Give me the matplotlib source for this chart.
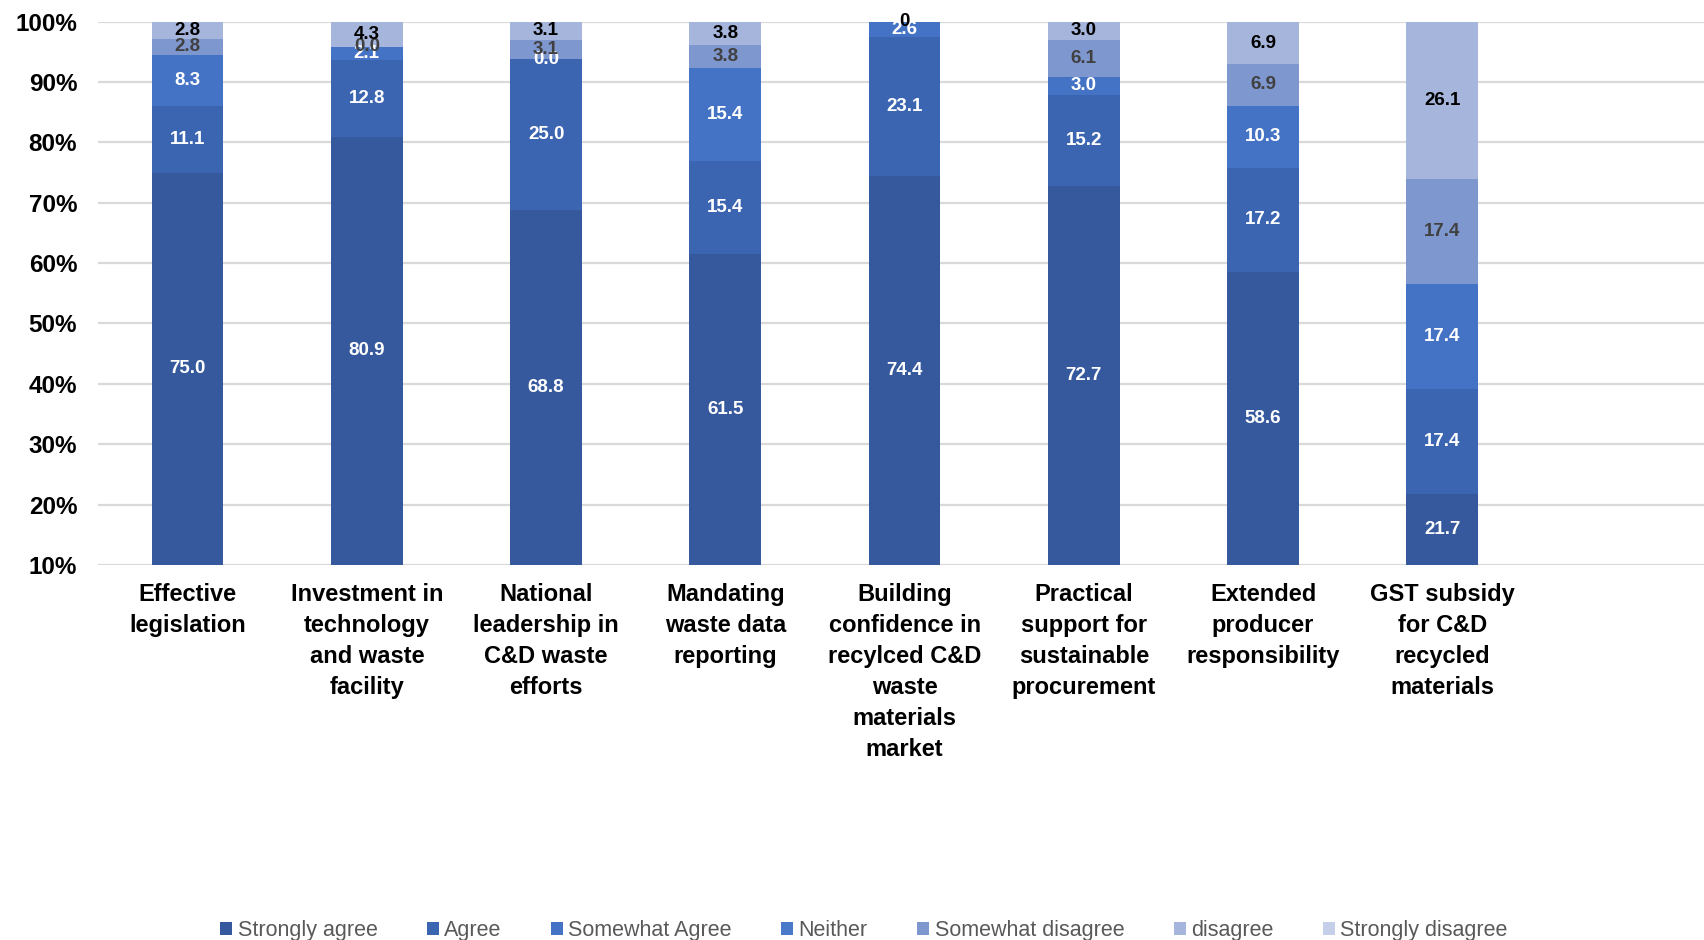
import matplotlib.pyplot as plt
import numpy as np
from matplotlib.ticker import FuncFormatter

plt.rcParams["font.family"] = ["Liberation Sans", "DejaVu Sans"]

categories = [
    "Effective\nlegislation",
    "Investment in\ntechnology\nand waste\nfacility",
    "National\nleadership in\nC&D waste\nefforts",
    "Mandating\nwaste data\nreporting",
    "Building\nconfidence in\nrecylced C&D\nwaste\nmaterials\nmarket",
    "Practical\nsupport for\nsustainable\nprocurement",
    "Extended\nproducer\nresponsibility",
    "GST subsidy\nfor C&D\nrecycled\nmaterials",
]

series_names = ["Strongly agree", "Agree", "Somewhat Agree", "Neither",
                "Somewhat disagree", "disagree", "Strongly disagree"]

strongly_agree = [75.0, 80.9, 68.8, 61.5, 74.4, 72.7, 58.6, 21.7]
agree = [11.1, 12.8, 25.0, 15.4, 23.1, 15.2, 17.2, 17.4]
somewhat_agree = [8.3, 2.1, 0.0, 15.4, 2.6, 3.0, 10.3, 17.4]
neither = [None] * 8
somewhat_disagree = [2.8, 0.0, 3.1, 3.8, None, 6.1, 6.9, 17.4]
disagree = [2.8, 4.3, 3.1, 3.8, 0.0, 3.0, 6.9, 26.1]
strongly_disagree = [None] * 8

series_values = [strongly_agree, agree, somewhat_agree, neither,
                 somewhat_disagree, disagree, strongly_disagree]
label_overrides = {(5, 4): "0"}  # (series index, bar index): text shown

colors = ["#35599C", "#3C65B1", "#4472C4", "#4B79C9", "#7F97CF", "#A6B5DB", "#C5CFE9"]
text_colors = ["white", "white", "white", "white", "#404040", "black", "black"]

fig = plt.figure(figsize=(17.04, 9.40), dpi=100)
ax = fig.add_axes([0.0575, 0.399, 0.9425, 0.578])

x = np.arange(len(categories))
ymin, ymax = 10, 100
bottom = np.zeros(len(categories))
for si, (name, vals) in enumerate(zip(series_names, series_values)):
    heights = np.array([v if v is not None else 0.0 for v in vals])
    ax.bar(x, heights, 0.4, bottom=bottom, color=colors[si], label=name, zorder=2)
    for i, v in enumerate(vals):
        if v is None:
            continue
        lo = min(max(bottom[i], ymin), ymax)
        hi = min(max(bottom[i] + v, ymin), ymax)
        text = label_overrides.get((si, i), f"{v:.1f}")
        ax.text(x[i], (lo + hi) / 2, text, ha="center", va="center",
                fontsize=13.5, fontweight="bold", color=text_colors[si], zorder=3)
    bottom += heights

ax.set_ylim(ymin, ymax)
ax.set_xlim(-0.5, 8.46)
ax.set_yticks(np.arange(10, 101, 10))
ax.yaxis.set_major_formatter(FuncFormatter(lambda v, p: f"{v:.0f}%"))
ax.grid(axis="y", color="#D9D9D9", linewidth=1.6, zorder=0)
ax.set_axisbelow(True)
for s in ax.spines.values():
    s.set_visible(False)
ax.tick_params(axis="y", length=0, pad=15, labelsize=17.5)
ax.tick_params(axis="x", length=0, pad=13)
for lab in ax.get_yticklabels():
    lab.set_fontweight("bold")
ax.set_xticks(x)
ax.set_xticklabels(categories, fontsize=17, fontweight="bold", linespacing=1.45,
                   va="top")

fig.legend(loc="lower center", bbox_to_anchor=(0.507, -0.022), ncol=7, frameon=False,
           fontsize=15.5, handlelength=0.55, handleheight=0.55, handletextpad=0.25,
           columnspacing=2.3, labelcolor="#595959")

fig.savefig("out.png", dpi=100)
